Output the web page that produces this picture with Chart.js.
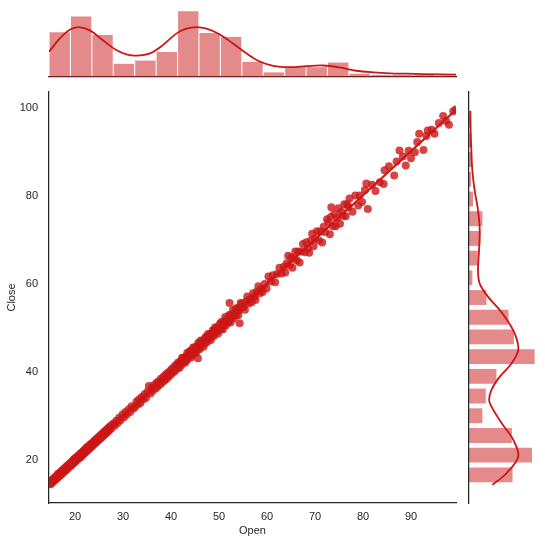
<!DOCTYPE html>
<html>
<head>
<meta charset="utf-8">
<script src="https://cdn.jsdelivr.net/npm/chart.js@4.4.1/dist/chart.umd.min.js"></script>
<style>
  html, body { margin: 0; padding: 0; background: #fff; }
  #wrap { position: relative; width: 545px; height: 544px; }
  #wrap canvas { position: absolute; left: 0; top: 0; }
</style>
</head>
<body>
<div id="wrap">
  <canvas id="mainChart" width="545" height="544"></canvas>
  <canvas id="topChart" width="545" height="544"></canvas>
  <canvas id="rightChart" width="545" height="544"></canvas>
</div>
<script>
// Scatter data (Open vs Close)
const openPrices = [
  14.6,14.8,14.9,15.1,15.2,15.4,15.5,15.7,15.8,16.0,16.1,16.3,16.4,16.6,16.7,16.9,17.0,17.2,17.3,17.5,17.6,17.8,17.9,18.1,18.2,18.4,18.5,18.7,18.8,19.0,
  19.1,19.2,19.3,19.5,19.6,19.7,19.8,20.0,20.1,20.2,20.4,20.5,20.6,20.8,20.9,21.0,21.1,21.3,21.4,21.5,21.7,21.8,21.9,22.0,22.2,22.3,22.4,22.6,22.7,22.8,22.9,23.1,23.2,23.3,23.4,19.9,21.2,22.5,
  23.6,23.8,23.9,24.1,24.2,24.4,24.5,24.7,24.8,25.0,25.1,25.3,25.4,25.6,25.7,25.9,26.0,26.2,26.3,26.5,26.6,26.8,26.9,27.1,27.2,27.4,27.6,27.8,
  28.0,28.3,28.6,28.9,29.2,29.5,29.9,30.2,30.5,30.8,31.2,31.5,31.8,32.2,
  32.5,32.8,33.1,33.3,33.6,33.9,34.2,34.5,34.8,35.1,35.4,35.7,36.0,36.2,36.5,36.8,
  37.0,37.2,37.4,37.7,37.9,38.1,38.4,38.6,38.8,39.1,39.3,39.5,39.8,40.0,40.2,40.5,40.7,40.9,41.1,41.3,
  41.5,41.6,41.7,41.8,41.9,42.0,42.2,42.3,42.4,42.5,42.6,42.7,42.8,43.0,43.1,43.2,43.3,43.4,43.5,43.6,43.8,43.9,44.0,44.1,44.2,44.3,44.4,44.6,44.7,44.8,44.9,45.0,45.1,45.2,45.4,45.5,45.6,45.7,45.6,44.0,
  45.9,46.0,46.2,46.3,46.5,46.6,46.8,46.9,47.1,47.2,47.4,47.5,47.7,47.8,48.0,48.1,48.3,48.4,48.6,48.7,48.9,49.0,49.2,49.3,49.5,49.6,49.8,49.9,50.1,50.2,
  50.4,50.5,50.7,50.8,51.0,51.1,51.3,51.4,51.6,51.8,51.9,52.1,52.2,52.4,52.5,52.7,52.9,53.0,53.2,53.3,53.5,53.6,53.8,54.0,54.1,54.3,54.5,52.2,
  54.8,55.1,55.4,55.7,55.9,56.2,56.5,56.8,57.1,57.4,57.6,57.9,58.2,58.5,58.8,59.1,54.3,
  59.5,59.9,60.3,60.8,61.2,61.7,62.1,62.6,63.0,63.5,
  63.8,64.1,64.4,64.7,65.0,65.3,65.6,65.9,66.2,66.5,66.8,67.1,67.5,67.9,
  68.2,68.5,68.8,69.1,69.4,69.7,70.0,70.4,70.8,71.1,71.5,71.8,72.1,72.5,
  72.8,73.1,73.4,73.7,74.0,74.3,74.6,74.9,75.2,75.5,75.8,76.1,76.4,76.7,77.0,73.3,
  77.2,77.8,78.4,79.0,79.3,79.8,80.4,81.0,80.7,
  81.9,82.6,83.5,84.3,84.5,85.4,
  86.5,87.0,87.6,88.3,88.9,89.5,90.0,
  90.8,91.3,91.7,92.6,93.2,93.5,94.3,
  94.9,95.8,96.7,97.3,97.9,98.8,99.3
];
const closePrices = [
  14.7,15.1,14.6,15.4,14.9,15.8,15.2,15.5,16.2,15.7,16.4,16.0,16.9,16.3,17.1,16.6,17.4,16.9,17.7,17.2,18.0,17.5,18.3,17.8,18.6,18.1,18.9,18.4,19.2,18.7,
  19.4,18.9,19.7,19.2,20.0,19.4,20.2,19.7,20.5,19.9,20.8,20.2,21.0,20.5,21.3,20.7,21.5,21.0,21.8,21.2,22.1,21.5,22.3,21.7,22.6,22.0,22.8,22.3,23.1,22.5,23.3,22.8,23.6,23.0,23.8,20.4,20.8,23.0,
  23.3,24.2,23.6,24.5,23.9,24.8,24.2,25.1,24.5,25.4,24.8,25.7,25.1,26.0,25.4,26.3,25.7,26.6,26.0,26.9,26.3,27.2,26.6,27.5,26.9,27.8,27.3,28.1,
  28.4,27.9,29.0,28.5,29.7,29.1,30.4,29.8,31.0,30.4,31.6,31.0,32.3,31.8,
  32.2,33.3,32.7,33.8,33.0,34.4,33.8,35.0,34.2,35.6,36.9,35.2,36.5,35.8,37.1,36.3,
  37.6,36.7,37.9,37.2,38.5,37.6,38.9,38.1,39.4,38.5,39.9,39.0,40.3,39.5,40.8,40.0,41.3,40.4,41.7,40.9,
  42.2,41.4,42.0,41.0,41.9,42.5,41.7,43.3,42.1,42.7,43.3,42.5,43.1,42.2,43.1,43.7,42.8,44.4,43.2,43.8,44.5,43.7,44.3,43.3,44.2,44.8,43.9,45.6,44.4,45.0,45.6,44.8,45.4,44.4,45.4,46.0,45.1,46.7,43.2,44.9,
  46.3,45.3,47.2,46.3,46.2,47.2,45.8,47.1,46.7,48.0,47.8,46.8,48.7,47.8,47.7,48.7,47.3,48.6,48.2,49.5,49.3,48.3,50.2,49.3,49.2,50.2,48.8,50.1,49.7,51.0,
  49.8,51.4,50.8,49.7,51.5,50.9,52.5,50.6,51.9,51.4,51.3,53.0,52.3,51.3,53.0,52.5,54.1,52.2,53.5,52.9,52.9,54.5,53.9,52.9,54.6,54.1,55.7,55.7,
  55.6,54.8,54.2,56.1,57.2,55.6,56.6,55.9,57.9,57.1,56.4,58.3,59.5,57.9,58.9,58.2,51.1,
  60.0,59.0,61.7,60.6,62.0,60.4,62.3,63.7,62.4,63.9,
  62.6,64.7,66.4,64.3,66.1,63.7,65.8,67.4,65.4,67.4,64.9,67.4,69.1,67.2,
  69.5,68.0,67.1,69.8,71.4,68.6,70.3,72.0,69.9,71.9,69.4,73.0,71.8,74.7,
  74.0,71.3,77.4,73.1,75.9,73.1,75.0,77.2,73.7,76.4,75.5,78.1,75.4,78.1,77.5,75.2,
  79.4,76.4,80.1,77.8,80.1,78.6,81.3,77.0,82.8,
  82.5,81.1,83.1,82.7,85.8,86.7,
  84.6,87.8,90.3,88.9,86.9,90.2,88.5,
  89.9,92.2,94.1,90.4,93.6,94.8,95.0,
  94.1,96.5,98.1,97.0,96.1,99.2,99.6
];

// Fitted regression line end points
const regOpen = [14.58, 99.375];
const regClose = [14.7, 99.5];

// Marginal histograms (19 bins each)
const openBinStart = 14.58, openBinWidth = 4.463;
const openCounts = [68, 92, 64, 20, 25, 38, 100, 67, 61, 23, 7, 15, 15, 22, 5, 3, 3, 3, 2];
const closeBinStart = 14.5, closeBinWidth = 4.468;
const closeCounts = [65, 94, 64, 20, 25, 41, 98, 67, 59, 26, 5, 13, 17, 20, 6, 3, 3, 3, 3];

// KDE curves (in count units)
const openKdeX = [14.6, 16.8, 18.9, 20.8, 23.1, 25.8, 28.6, 30.7, 32.8, 35.6, 38.3, 41.1, 43.2, 45.3, 47.4, 50.1, 52.9, 55.7, 58.5, 61.3, 64.7, 68.2, 71.7, 75.1, 78.6, 82.1, 85.6, 89.0, 92.5, 99.4];
const openKdeY = [38.5, 58.5, 72, 76, 71, 56, 41, 34.5, 32.5, 36, 48.5, 66, 73.5, 76, 73.5, 65, 51, 36, 23.5, 17, 15, 16.5, 17.5, 14.5, 9.5, 7, 5.5, 5, 4.5, 3.5];
const closeKdeY = [14.5, 17.1, 20.9, 24.7, 28.5, 32.2, 33.7, 36.0, 39.0, 42.0, 45.0, 48.1, 51.1, 54.1, 57.1, 60.1, 63.1, 67.7, 72.2, 76.7, 81.2, 85.7, 90.3, 94.8, 99.3];
const closeKdeX = [35, 56, 73.5, 66, 48.5, 33.5, 30, 33.5, 46, 63.5, 73.5, 70, 60, 46, 28.5, 16, 13.5, 15, 16, 13.5, 8.5, 5, 3.5, 2.5, 2];

// Axis ticks
const xTicks = [20, 30, 40, 50, 60, 70, 80, 90];
const yTicks = [20, 40, 60, 80, 100];

const RED = 'rgb(204,22,22)';
const RED_PT = 'rgba(204,22,22,0.8)';
const RED_BAR = 'rgba(204,22,22,0.5)';
const INK = '#262626';
const FONT = { family: "'Liberation Sans', Arial, sans-serif", size: 11 };

const xMin = 14.58, xMax = 99.375;
const yMin = 10.35, yMax = 103.55;

const spine = { display: true, color: INK, width: 1.25 };
const noGrid = { display: false, drawTicks: false };
const quiet = { legend: { display: false }, tooltip: { enabled: false } };

// Main scatter + regression line
new Chart(document.getElementById('mainChart'), {
  type: 'scatter',
  data: {
    datasets: [
      {
        type: 'line',
        data: regOpen.map((x, i) => ({ x, y: regClose[i] })),
        borderColor: RED,
        borderWidth: 2,
        pointRadius: 0,
        clip: 0
      },
      {
        data: openPrices.map((x, i) => ({ x, y: closePrices[i] })),
        backgroundColor: RED_PT,
        borderWidth: 0,
        pointRadius: 4,
        clip: 0
      }
    ]
  },
  options: {
    responsive: false,
    animation: false,
    plugins: quiet,
    layout: { padding: { top: 92, right: 89, left: 0, bottom: 0 } },
    scales: {
      x: {
        type: 'linear', min: xMin, max: xMax,
        grid: noGrid, border: spine,
        ticks: { color: INK, font: FONT, padding: 7 },
        title: { display: true, text: 'Open', color: INK, font: FONT, padding: { top: 0, bottom: 6 } },
        afterBuildTicks: s => { s.ticks = xTicks.map(v => ({ value: v })); },
        afterFit: s => { s.height = 41; }
      },
      y: {
        type: 'linear', min: yMin, max: yMax,
        grid: noGrid, border: spine,
        ticks: { color: INK, font: FONT, padding: 11 },
        title: { display: true, text: 'Close', color: INK, font: FONT, padding: { top: 5, bottom: 0 } },
        afterBuildTicks: s => { s.ticks = yTicks.map(v => ({ value: v })); },
        afterFit: s => { s.width = 49; }
      }
    }
  }
});

// Top marginal: Open histogram + KDE
new Chart(document.getElementById('topChart'), {
  type: 'bar',
  data: {
    datasets: [
      {
        type: 'line',
        data: openKdeX.map((x, i) => ({ x, y: openKdeY[i] })),
        borderColor: RED, borderWidth: 1.8, pointRadius: 0, tension: 0.35
      },
      {
        data: openCounts.map((c, i) => ({ x: openBinStart + openBinWidth * (i + 0.5), y: c })),
        backgroundColor: RED_BAR,
        barPercentage: 0.95, categoryPercentage: 1
      }
    ]
  },
  options: {
    responsive: false,
    animation: false,
    plugins: quiet,
    layout: { padding: { left: 49, right: 89, top: 8, bottom: 467 } },
    scales: {
      x: {
        type: 'linear', min: xMin, max: xMax, offset: false,
        grid: noGrid, border: spine, ticks: { display: false },
        afterFit: s => { s.height = 0; }
      },
      y: { display: false, min: 0, max: 105 }
    }
  }
});

// Right marginal: Close histogram + KDE
new Chart(document.getElementById('rightChart'), {
  type: 'bar',
  data: {
    datasets: [
      {
        type: 'line',
        indexAxis: 'y',
        data: closeKdeY.map((y, i) => ({ x: closeKdeX[i], y })),
        borderColor: RED, borderWidth: 1.8, pointRadius: 0, tension: 0.35
      },
      {
        data: closeCounts.map((c, i) => ({ x: c, y: closeBinStart + closeBinWidth * (i + 0.5) })),
        backgroundColor: RED_BAR,
        barPercentage: 0.95, categoryPercentage: 1
      }
    ]
  },
  options: {
    indexAxis: 'y',
    responsive: false,
    animation: false,
    plugins: quiet,
    layout: { padding: { left: 469, right: 7, top: 92, bottom: 41 } },
    scales: {
      y: {
        type: 'linear', position: 'left', min: yMin, max: yMax, offset: false,
        grid: noGrid, border: spine, ticks: { display: false },
        afterFit: s => { s.width = 0; }
      },
      x: { display: false, min: 0, max: 103 }
    }
  }
});
</script>
</body>
</html>
